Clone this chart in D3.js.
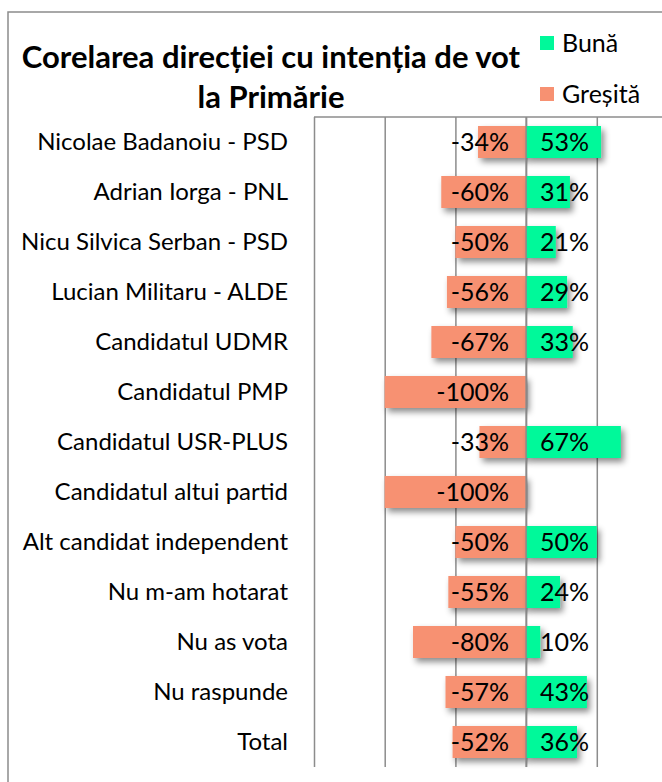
<!DOCTYPE html>
<html>
<head>
<meta charset="utf-8">
<script src="https://cdn.jsdelivr.net/npm/d3@7/dist/d3.min.js"></script>
<style>
  html, body { margin: 0; padding: 0; background: #fff; }
  svg { display: block; font-family: Lato, "Open Sans", sans-serif; }
</style>
</head>
<body>
<div id="chart"></div>
<script>
// ── Data ─────────────────────────────────────────────────────────
const categories = [
  'Nicolae Badanoiu - PSD', 'Adrian Iorga - PNL', 'Nicu Silvica Serban - PSD',
  'Lucian Militaru - ALDE', 'Candidatul UDMR', 'Candidatul PMP',
  'Candidatul USR-PLUS', 'Candidatul altui partid', 'Alt candidat independent',
  'Nu m-am hotarat', 'Nu as vota', 'Nu raspunde', 'Total'
];
const buna    = [53, 31, 21, 29, 33, 0, 67, 0, 50, 24, 10, 43, 36];
const gresita = [-34, -60, -50, -56, -67, -100, -33, -100, -50, -55, -80, -57, -52];
const xTicks  = [-150, -100, -50, 0, 50, 100];
const seriesNames = ['Bună', 'Greșită'];
const colors = { buna: '#00F99A', gresita: '#F79172' };

const W = 662, H = 782;
const plot = { left: 314, top: 117, bottom: 767 };

const svg = d3.select('#chart').append('svg')
  .attr('width', W).attr('height', H);

const defs = svg.append('defs');
const f = defs.append('filter').attr('id', 'shadow')
  .attr('x', '-20%').attr('y', '-30%').attr('width', '150%').attr('height', '180%');
f.append('feDropShadow').attr('dx', 3).attr('dy', 4).attr('stdDeviation', 3)
  .attr('flood-color', '#000').attr('flood-opacity', 0.45);

// outer frame (continues past the right/bottom edge)
svg.append('rect')
  .attr('x', 8).attr('y', 12).attr('width', 800).attr('height', 900)
  .attr('fill', 'none').attr('stroke', '#8c8c8c').attr('stroke-width', 1.5);

const x = d3.scaleLinear().domain([-150, 100]).range([plot.left, plot.left + 250 * 1.414]);
const y = d3.scaleBand().domain(categories).range([plot.top, plot.bottom])
  .paddingInner(0.36).paddingOuter(0.18);

// ── Gridlines ────────────────────────────────────────────────────
const grid = svg.append('g')
  .attr('transform', `translate(0,${plot.bottom})`)
  .call(d3.axisBottom(x).tickValues(xTicks).tickSize(-(plot.bottom - plot.top)).tickFormat(''));
grid.select('.domain').remove();
grid.selectAll('.tick line').attr('stroke', '#8c8c8c').attr('stroke-width', 1.5);

svg.append('line')
  .attr('x1', plot.left).attr('x2', W + 10)
  .attr('y1', plot.top).attr('y2', plot.top)
  .attr('stroke', '#8c8c8c').attr('stroke-width', 1.5);

// ── Bars ─────────────────────────────────────────────────────────
const rows = categories.map((c, i) => ({ c, b: buna[i], g: gresita[i] }));

svg.append('g').attr('filter', 'url(#shadow)')
  .selectAll('rect').data(rows).enter().append('rect')
  .attr('x', d => x(d.g)).attr('y', d => y(d.c))
  .attr('width', d => x(0) - x(d.g)).attr('height', y.bandwidth())
  .attr('fill', colors.gresita);

svg.append('g').attr('filter', 'url(#shadow)')
  .selectAll('rect').data(rows.filter(d => d.b > 0)).enter().append('rect')
  .attr('x', x(0)).attr('y', d => y(d.c))
  .attr('width', d => x(d.b) - x(0)).attr('height', y.bandwidth())
  .attr('fill', colors.buna);

// zero line on top of bars
svg.append('line')
  .attr('x1', x(0)).attr('x2', x(0)).attr('y1', plot.top).attr('y2', plot.bottom)
  .attr('stroke', '#8c8c8c').attr('stroke-width', 1.5);

// ── Value labels ─────────────────────────────────────────────────
const lbl = svg.append('g').attr('font-size', '25px').attr('fill', '#000').attr('text-anchor', 'end');
lbl.selectAll('text.neg').data(rows).enter().append('text')
  .attr('class', 'neg')
  .attr('x', x(0) - 17).attr('y', d => y(d.c) + y.bandwidth() / 2)
  .attr('dy', '0.36em')
  .text(d => `${d.g}%`);
lbl.selectAll('text.pos').data(rows.filter(d => d.b > 0)).enter().append('text')
  .attr('class', 'pos')
  .attr('x', x(0) + 63).attr('y', d => y(d.c) + y.bandwidth() / 2)
  .attr('dy', '0.36em')
  .text(d => `${d.b}%`);

// ── Category axis ────────────────────────────────────────────────
const yAxis = svg.append('g')
  .attr('transform', 'translate(288,0)')
  .call(d3.axisLeft(y).tickSize(0).tickPadding(0));
yAxis.select('.domain').remove();
yAxis.selectAll('text')
  .attr('font-family', 'Lato, sans-serif').attr('font-size', '24px').attr('fill', '#000');

// ── Title ────────────────────────────────────────────────────────
const title = svg.append('text')
  .attr('text-anchor', 'middle').attr('font-weight', 'bold').attr('font-size', '31px').attr('fill', '#000');
title.append('tspan').attr('x', 271).attr('y', 68).text('Corelarea direcției cu intenția de vot');
title.append('tspan').attr('x', 271).attr('y', 108).text('la Primărie');

// ── Legend ───────────────────────────────────────────────────────
const legend = svg.append('g');
const legendItems = [
  { name: seriesNames[0], color: colors.buna, y: 43 },
  { name: seriesNames[1], color: colors.gresita, y: 94 }
];
legendItems.forEach(it => {
  legend.append('rect').attr('x', 540).attr('y', it.y - 7).attr('width', 14).attr('height', 14)
    .attr('fill', it.color);
  legend.append('text').attr('x', 562).attr('y', it.y).attr('dy', '0.36em')
    .attr('font-size', '25px').attr('fill', '#000').text(it.name);
});
</script>
</body>
</html>
